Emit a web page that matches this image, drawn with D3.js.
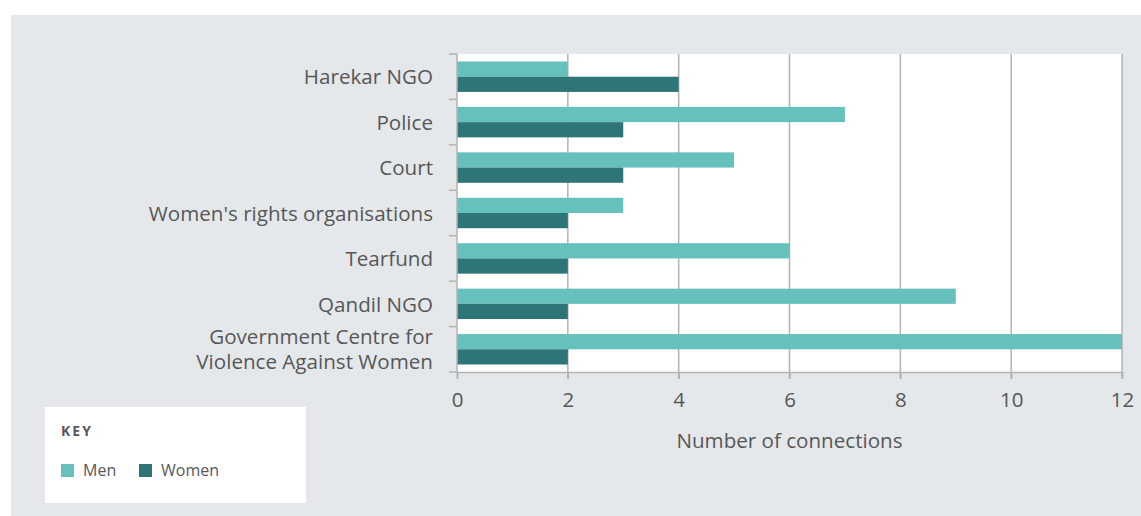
<!DOCTYPE html>
<html>
<head>
<meta charset="utf-8">
<script src="https://cdn.jsdelivr.net/npm/d3@7"></script>
<style>
  html, body { margin: 0; padding: 0; background: #ffffff; }
  svg { display: block; }
  text { font-family: "Open Sans", Lato, sans-serif; fill: #575757; }
</style>
</head>
<body>
<svg id="chart" width="1141" height="516"></svg>
<script>
const categories = [
  "Harekar NGO",
  "Police",
  "Court",
  "Women's rights organisations",
  "Tearfund",
  "Qandil NGO",
  "Government Centre for\nViolence Against Women"
];
const menValues   = [2, 7, 5, 3, 6, 9, 12];
const womenValues = [4, 3, 3, 2, 2, 2, 2];
const seriesNames = ["Men", "Women"];
const xTicks = [0, 2, 4, 6, 8, 10, 12];
const xTitle = "Number of connections";
const keyTitle = "KEY";

const colors = { Men: "#66c1bd", Women: "#2d7577" };
const FONT = "'Open Sans', Lato, sans-serif";

const svg = d3.select("#chart");
const W = 1141, H = 516;

// panel background
svg.append("rect").attr("x", 11).attr("y", 15).attr("width", W - 11).attr("height", H - 15).attr("fill", "#e4e8eb");

const plot = { left: 457, right: 1122, top: 54, bottom: 372 };

const x = d3.scaleLinear().domain([0, 12]).range([plot.left, plot.right]);
const y = d3.scaleBand().domain(categories).range([plot.top, plot.bottom]).paddingInner(0.33).paddingOuter(0.165);
const ySub = d3.scaleBand().domain(seriesNames).range([0, y.bandwidth()]);
const yEdges = d3.scaleBand().domain(categories).range([plot.top, plot.bottom]);

// plot white area
svg.append("rect").attr("x", plot.left).attr("y", plot.top)
  .attr("width", plot.right - plot.left).attr("height", plot.bottom - plot.top).attr("fill", "#ffffff");

// gridlines
svg.append("g").selectAll("line").data(xTicks.slice(1)).join("line")
  .attr("x1", d => x(d)).attr("x2", d => x(d))
  .attr("y1", plot.top).attr("y2", plot.bottom + 7)
  .attr("stroke", "#b3b3b3").attr("stroke-width", 1.5);

// bars
const rows = categories.map((c, i) => ({ cat: c, Men: menValues[i], Women: womenValues[i] }));
const g = svg.append("g");
rows.forEach(r => {
  seriesNames.forEach(s => {
    g.append("rect")
      .attr("x", x(0))
      .attr("y", y(r.cat) + ySub(s))
      .attr("width", x(r[s]) - x(0))
      .attr("height", ySub.bandwidth())
      .attr("fill", colors[s]);
  });
});

// x axis
const xAxis = svg.append("g").attr("transform", `translate(0,${plot.bottom})`)
  .call(d3.axisBottom(x).tickValues(xTicks).tickSize(7).tickPadding(13).tickFormat(d3.format("d")));
xAxis.select(".domain").attr("stroke", "#b3b3b3").attr("stroke-width", 1.5);
xAxis.selectAll(".tick line").attr("stroke", "#b3b3b3").attr("stroke-width", 1.5);
xAxis.selectAll(".tick text").attr("font-size", 20.5).attr("fill", "#575757")
  .style("font-family", FONT);

// y axis line and ticks at band edges
const edges = categories.map(c => yEdges(c)).concat([plot.bottom]);
svg.append("line").attr("x1", plot.left).attr("x2", plot.left).attr("y1", plot.top).attr("y2", plot.bottom)
  .attr("stroke", "#b3b3b3").attr("stroke-width", 1.5);
svg.append("g").selectAll("line").data(edges).join("line")
  .attr("x1", plot.left - 8).attr("x2", plot.left).attr("y1", d => d).attr("y2", d => d)
  .attr("stroke", "#b3b3b3").attr("stroke-width", 1.5);

// y labels
const labels = svg.append("g");
categories.forEach(c => {
  const lines = c.split("\n");
  const cy = y(c) + y.bandwidth() / 2;
  const lh = 25;
  const t = labels.append("text").attr("text-anchor", "end").attr("font-size", 20.6);
  lines.forEach((ln, i) => {
    t.append("tspan").attr("x", 433)
      .attr("y", cy + (i - (lines.length - 1) / 2) * lh + 0.5)
      .attr("dy", "0.35em").text(ln);
  });
});

// x title
svg.append("text").attr("x", (plot.left + plot.right) / 2).attr("y", 448)
  .attr("text-anchor", "middle").attr("font-size", 20.6).text(xTitle);

// legend
const lg = svg.append("g");
lg.append("rect").attr("x", 45).attr("y", 407).attr("width", 261).attr("height", 96).attr("fill", "#ffffff");
lg.append("text").attr("x", 61).attr("y", 436).attr("font-size", 14).attr("font-weight", "bold")
  .attr("letter-spacing", 2).text(keyTitle);
const items = [{ name: "Men", x: 61 }, { name: "Women", x: 139 }];
items.forEach(it => {
  lg.append("rect").attr("x", it.x).attr("y", 464).attr("width", 13).attr("height", 13).attr("fill", colors[it.name]);
  lg.append("text").attr("x", it.x + 22).attr("y", 476).attr("font-size", 16).text(it.name);
});
</script>
</body>
</html>
